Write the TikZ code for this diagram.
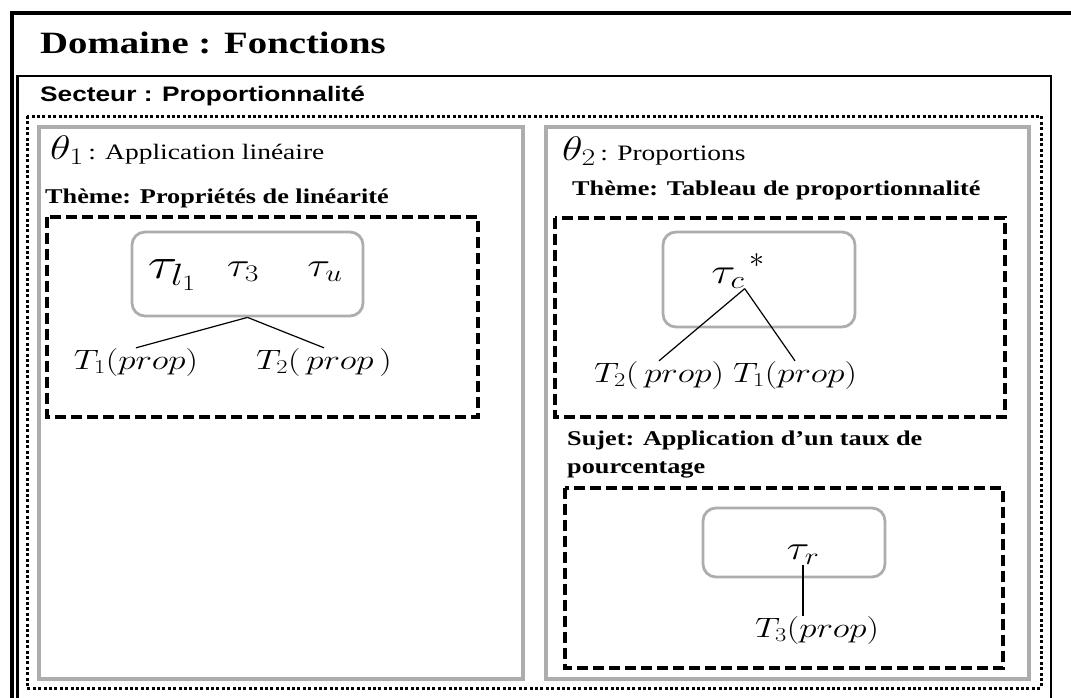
\documentclass[tikz,border=0pt]{standalone}
\usepackage{fix-cm}
\usepackage{fontspec}
\setmainfont{Liberation Serif}
\newfontfamily\sectfont{Liberation Sans}
\usetikzlibrary{positioning,calc}
\definecolor{boxgray}{gray}{0.68}
\newcommand{\stretchit}[1]{\scalebox{1.25}[1]{#1}}
\newcommand{\fsz}[1]{\fontsize{#1}{#1}\selectfont}

\tikzset{
  grayframe/.style={draw=boxgray,line width=3.2pt},
  taubox/.style={draw=boxgray,line width=2.8pt,rounded corners=13pt,inner sep=0pt},
  dashframe/.style={draw,line width=3.4pt,dash pattern=on 11pt off 5pt},
  dotframe/.style={draw,line width=3pt,dash pattern=on 3pt off 2.4pt},
  title/.style={anchor=base west,inner sep=0pt},
  term/.style={inner sep=0pt,font=\fsz{28}},
  link/.style={line width=1.2pt},
}

\begin{document}
\begin{tikzpicture}[x=1pt,y=-1pt]
  \useasboundingbox (0,0) rectangle (1071,697);
  % cadres emboites
  \draw[line width=4pt] (12,710) -- (12,13) -- (1085,13);
  \draw[line width=2.8pt] (17.5,710) -- (17.5,76) -- (1051,76) -- (1051,710);
  \draw[dotframe] (27,116) rectangle (1041,688);
  \draw[grayframe] (39,127) rectangle (523,679);
  \draw[grayframe] (546,127) rectangle (1029,679);
  \draw[dashframe] (47,217) rectangle (478,417);
  \draw[dashframe] (555,218) rectangle (1005,417);
  \draw[dashframe] (565,488) rectangle (1003,668);

  % titres
  \node[title,font=\fsz{31}\bfseries] (dom) at (40,53) {\stretchit{Domaine : Fonctions}};
  \node[title,font=\sectfont\fsz{21}\bfseries] (sect) at (40,101) {\stretchit{Secteur : Proportionnalité}};
  \node[title,font=\fsz{22}] (thetaA) at (50,159) {\stretchit{{\fsz{34}$\theta_1$}\,: Application linéaire}};
  \node[title,font=\fsz{21}\bfseries] (themeA) at (45,203) {\stretchit{Thème: Propriétés de linéarité}};
  \node[title,font=\fsz{22}] (thetaB) at (562,160) {\stretchit{{\fsz{34}$\theta_2$}\,: Proportions}};
  \node[title,font=\fsz{21}\bfseries] (themeB) at (572,195) {\stretchit{Thème: Tableau de proportionnalité}};
  \node[title,font=\fsz{21}\bfseries] (sujet) at (567,445) {\stretchit{Sujet: Application d’un taux de}};
  \node[title,font=\fsz{21}\bfseries] (sujetB) at (567,473) {\stretchit{pourcentage}};

  % theta 1
  \node[taubox,minimum width=231pt,minimum height=84pt] (boxA) at (247.5,274) {};
  \node[term,font=\fsz{44}] (tauL) at (172,275) {\stretchit{$\tau_{l_1}$}};
  \node[term,font=\fsz{34}] (tauT) at (243,272) {\stretchit{$\tau_3$}};
  \node[term,font=\fsz{34}] (tauU) at (325,272) {\stretchit{$\tau_u$}};
  \node[term] (tOneA) at (136,362) {\stretchit{$T_1(prop)$}};
  \node[term] (tTwoA) at (324,362) {\stretchit{$T_2(\,prop\,)$}};
  \draw[link] (boxA.south) -- (tOneA.north);
  \draw[link] (boxA.south) -- (tTwoA.north);

  % theta 2 : tableau
  \node[taubox,minimum width=192pt,minimum height=95pt] (boxB) at (759,279.5) {};
  \node[term,font=\fsz{36}] (tauC) at (728,278) {\stretchit{$\tau_c$}};
  \node[term,font=\fsz{30}] (star) at (757,261) {$*$};
  \node[term] (tTwoB) at (659,375) {\stretchit{$T_2(\,prop)$}};
  \node[term] (tOneB) at (795,375) {\stretchit{$T_1(prop)$}};
  \draw[link] (tauC.south east) -- (tTwoB.north);
  \draw[link] (tauC.south east) -- (tOneB.north);

  % theta 2 : pourcentage
  \node[taubox,minimum width=182pt,minimum height=69pt] (boxC) at (794,542.5) {};
  \node[term,font=\fsz{34}] (tauR) at (803,555) {\stretchit{$\tau_r$}};
  \node[term] (tThree) at (817,630) {\stretchit{$T_3(prop)$}};
  \draw[link] (tauR.south) -- (tauR.south |- tThree.north);
\end{tikzpicture}
\end{document}
